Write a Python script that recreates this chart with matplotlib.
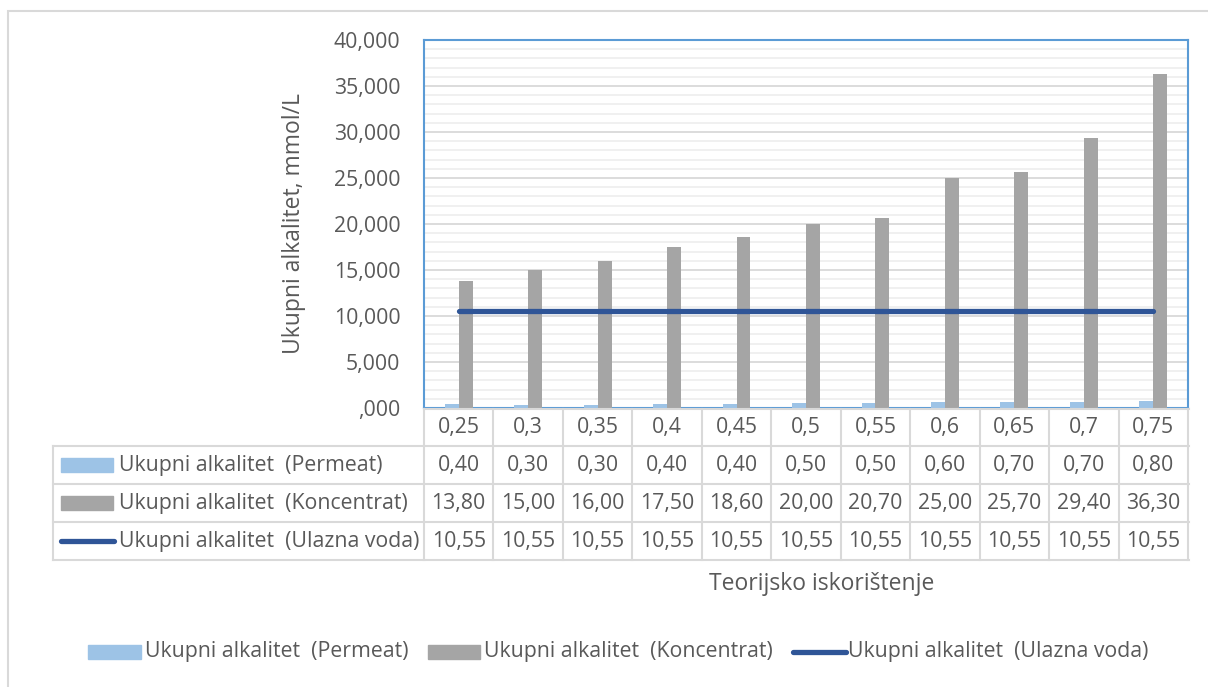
import numpy as np
import matplotlib.pyplot as plt
from matplotlib.patches import Rectangle
from matplotlib.lines import Line2D
from matplotlib.transforms import blended_transform_factory

# --- podaci ---
kategorije = ['0,25', '0,3', '0,35', '0,4', '0,45', '0,5', '0,55', '0,6', '0,65', '0,7', '0,75']
permeat = [0.40, 0.30, 0.30, 0.40, 0.40, 0.50, 0.50, 0.60, 0.70, 0.70, 0.80]
koncentrat = [13.80, 15.00, 16.00, 17.50, 18.60, 20.00, 20.70, 25.00, 25.70, 29.40, 36.30]
ulazna = [10.55] * 11
nazivi = ['Ukupni alkalitet  (Permeat)', 'Ukupni alkalitet  (Koncentrat)',
          'Ukupni alkalitet  (Ulazna voda)']
y_ticks = [0, 5, 10, 15, 20, 25, 30, 35, 40]
y_tick_labels = [',000', '5,000', '10,000', '15,000', '20,000', '25,000',
                 '30,000', '35,000', '40,000']

C_PERM = '#9dc3e6'
C_KONC = '#a5a5a5'
C_LINE = '#2f5597'
C_TXT = '#595959'
C_GRID = '#d9d9d9'
FS = 15.3

plt.rcParams['font.family'] = ['Open Sans', 'DejaVu Sans']

W, H = 1208, 687
fig = plt.figure(figsize=(W / 100, H / 100), dpi=100)


def fx(px):
    return px / W


def fy(py):
    return 1 - py / H


# granica cijele slike
fig.patches.append(Rectangle((fx(8), fy(700)), fx(1300), fy(11) - fy(700),
                             transform=fig.transFigure, fill=False,
                             edgecolor=C_GRID, lw=1.5))

ax = fig.add_axes([fx(424), fy(408), fx(1188) - fx(424), fy(40) - fy(408)])
x = np.arange(len(kategorije))
w = 0.2
ax.bar(x - w / 2, permeat, w, color=C_PERM, zorder=3)
ax.bar(x + w / 2, koncentrat, w, color=C_KONC, zorder=3)
ax.plot(x, ulazna, color=C_LINE, lw=3.8, solid_capstyle='round', zorder=4)

ax.set_xlim(-0.5, len(kategorije) - 0.5)
ax.set_ylim(0, 40)
ax.set_yticks(y_ticks)
ax.set_yticklabels(y_tick_labels, fontsize=FS, color=C_TXT)
ax.set_yticks(np.arange(0, 41, 1), minor=True)
ax.grid(axis='y', which='major', color=C_GRID, lw=1.3, zorder=0)
ax.grid(axis='y', which='minor', color='#efefef', lw=1.3, zorder=0)
ax.set_xticks([])
ax.tick_params(axis='y', which='both', length=0, pad=17)
for s in ax.spines.values():
    s.set_color('#5b9bd5')
    s.set_linewidth(1.5)
ax.set_ylabel('Ukupni alkalitet, mmol/L', fontsize=16.5, color=C_TXT, labelpad=20)

# --- tablica podataka ---
tr = blended_transform_factory(ax.transData, fig.transFigure)
redovi = [409, 446, 484, 522, 560]
lc = dict(color=C_GRID, lw=1.5, clip_on=False)

# horizontalne linije
fig.add_artist(Line2D([fx(424), fx(1189)], [fy(409), fy(409)], transform=fig.transFigure, **lc))
for ry in redovi[1:]:
    fig.add_artist(Line2D([fx(53), fx(1189)], [fy(ry), fy(ry)], transform=fig.transFigure, **lc))
# vertikalne linije
for i in range(len(kategorije) + 1):
    fig.add_artist(Line2D([i - 0.5, i - 0.5], [fy(409), fy(560)], transform=tr, **lc))
fig.add_artist(Line2D([fx(53), fx(53)], [fy(446), fy(560)], transform=fig.transFigure, **lc))

retci = [kategorije,
         ['%.2f' % v for v in permeat],
         ['%.2f' % v for v in koncentrat],
         ['%.2f' % v for v in ulazna]]
for r, vals in enumerate(retci):
    yc = fy((redovi[r] + redovi[r + 1]) / 2)
    for i, v in enumerate(vals):
        fig.text(i, yc, v.replace('.', ','), transform=tr, ha='center', va='center',
                 fontsize=FS, color=C_TXT)

# oznake serija u tablici
for r, naziv in enumerate(nazivi):
    yc = (redovi[r + 1] + redovi[r + 2]) / 2
    if r < 2:
        fig.patches.append(Rectangle((fx(61), fy(yc + 7)), fx(113) - fx(61), fy(yc - 7) - fy(yc + 7),
                                     transform=fig.transFigure,
                                     color=[C_PERM, C_KONC][r]))
    else:
        fig.add_artist(Line2D([fx(61), fx(114)], [fy(yc), fy(yc)], transform=fig.transFigure,
                              color=C_LINE, lw=3.8, solid_capstyle='round'))
    fig.text(fx(119), fy(yc), naziv, ha='left', va='center', fontsize=FS, color=C_TXT)

fig.text(fx(822), fy(584), 'Teorijsko iskorištenje', ha='center', va='center',
         fontsize=16.5, color=C_TXT)

# --- legenda dolje ---
ly = 652
fig.patches.append(Rectangle((fx(88), fy(ly + 7)), fx(141) - fx(88), fy(ly - 7) - fy(ly + 7),
                             transform=fig.transFigure, color=C_PERM))
fig.text(fx(145), fy(ly), nazivi[0], ha='left', va='center', fontsize=FS, color=C_TXT)
fig.patches.append(Rectangle((fx(428), fy(ly + 7)), fx(480) - fx(428), fy(ly - 7) - fy(ly + 7),
                             transform=fig.transFigure, color=C_KONC))
fig.text(fx(484), fy(ly), nazivi[1], ha='left', va='center', fontsize=FS, color=C_TXT)
fig.add_artist(Line2D([fx(793), fx(846)], [fy(ly), fy(ly)], transform=fig.transFigure,
                      color=C_LINE, lw=3.8, solid_capstyle='round'))
fig.text(fx(848), fy(ly), nazivi[2], ha='left', va='center', fontsize=FS, color=C_TXT)

fig.savefig('out.png', dpi=100)
